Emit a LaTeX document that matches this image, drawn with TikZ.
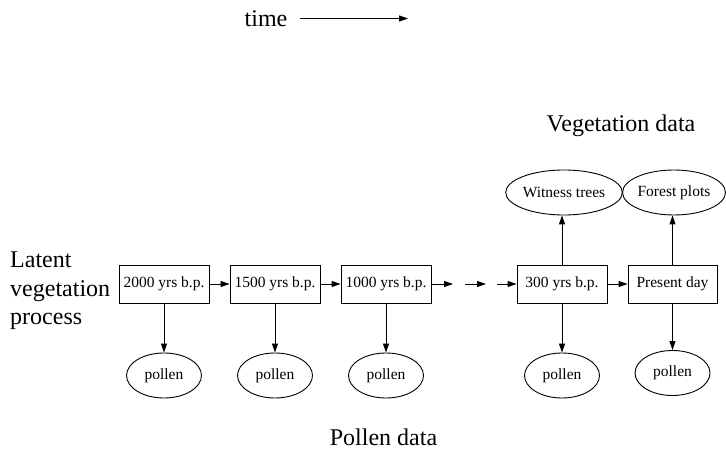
\documentclass[tikz,border=0pt]{standalone}
\usepackage{fontspec}
\setmainfont{Liberation Serif}
\usetikzlibrary{arrows.meta,shapes.geometric}
\begin{document}
\begin{tikzpicture}[x=1pt,y=-1pt,
  every node/.style={inner sep=0pt},
  box/.style={draw,line width=0.9pt,minimum width=90pt,minimum height=38pt,font=\fontsize{15.5}{18}\selectfont},
  oval/.style={draw,ellipse,line width=0.9pt,font=\fontsize{15.5}{18}\selectfont},
  pollenoval/.style={oval,minimum width=75pt,minimum height=45pt},
  vegoval/.style={oval,minimum width=103pt,minimum height=45pt},
  big/.style={font=\fontsize{24}{28.5}\selectfont},
  arr/.style={line width=0.9pt,-{Triangle[length=9pt,width=6pt]}}]
\useasboundingbox (0,0) rectangle (726,454);

% title arrow
\node[big,anchor=base] (time) at (266,27) {time};
\coordinate (ts) at (300,18.5);
\coordinate (te) at (408,18.5);
\draw[arr] (ts) -- (te);

% labels
\node[big,anchor=west,align=left] (latent) at (10,291) {Latent\\vegetation\\process};
\node[big,anchor=base] (vegdata) at (621,132) {Vegetation data};
\node[big,anchor=base] (poldata) at (383.5,446) {Pollen data};

% boxes
\node[box] (b1) at (164,284) {2000 yrs b.p.};
\node[box] (b2) at (275,284) {1500 yrs b.p.};
\node[box] (b3) at (386,284) {1000 yrs b.p.};
\node[box] (b4) at (562,284) {300 yrs b.p.};
\node[box,minimum width=89pt] (b5) at (672.5,284) {Present day};

% gap coordinates
\coordinate (d1) at (453,284);
\coordinate (d2) at (465,284);
\coordinate (d3) at (486,284);
\coordinate (d4) at (497,284);

% horizontal arrows
\draw[arr] (b1) -- (b2);
\draw[arr] (b2) -- (b3);
\draw[arr] (b3) -- (d1);
\draw[arr] (d2) -- (d3);
\draw[arr] (d4) -- (b4);
\draw[arr] (b4) -- (b5);

% vegetation data ovals
\node[vegoval] (wit) at (564,192.5) {Witness trees};
\node[vegoval,minimum width=102pt] (for) at (674,192.5) {Forest plots};
\draw[arr] (b4.north) -- (b4.north |- wit.south);
\draw[arr] (b5.north) -- (b5.north |- for.south);

% pollen ovals
\node[pollenoval] (p1) at (164,375.5) {pollen};
\node[pollenoval] (p2) at (275,375.5) {pollen};
\node[pollenoval] (p3) at (386,375.5) {pollen};
\node[pollenoval] (p4) at (562,375.5) {pollen};
\node[pollenoval] (p5) at (672.5,373) {pollen};
\draw[arr] (b1) -- (p1);
\draw[arr] (b2) -- (p2);
\draw[arr] (b3) -- (p3);
\draw[arr] (b4) -- (p4);
\draw[arr] (b5) -- (p5);
\end{tikzpicture}
\end{document}
